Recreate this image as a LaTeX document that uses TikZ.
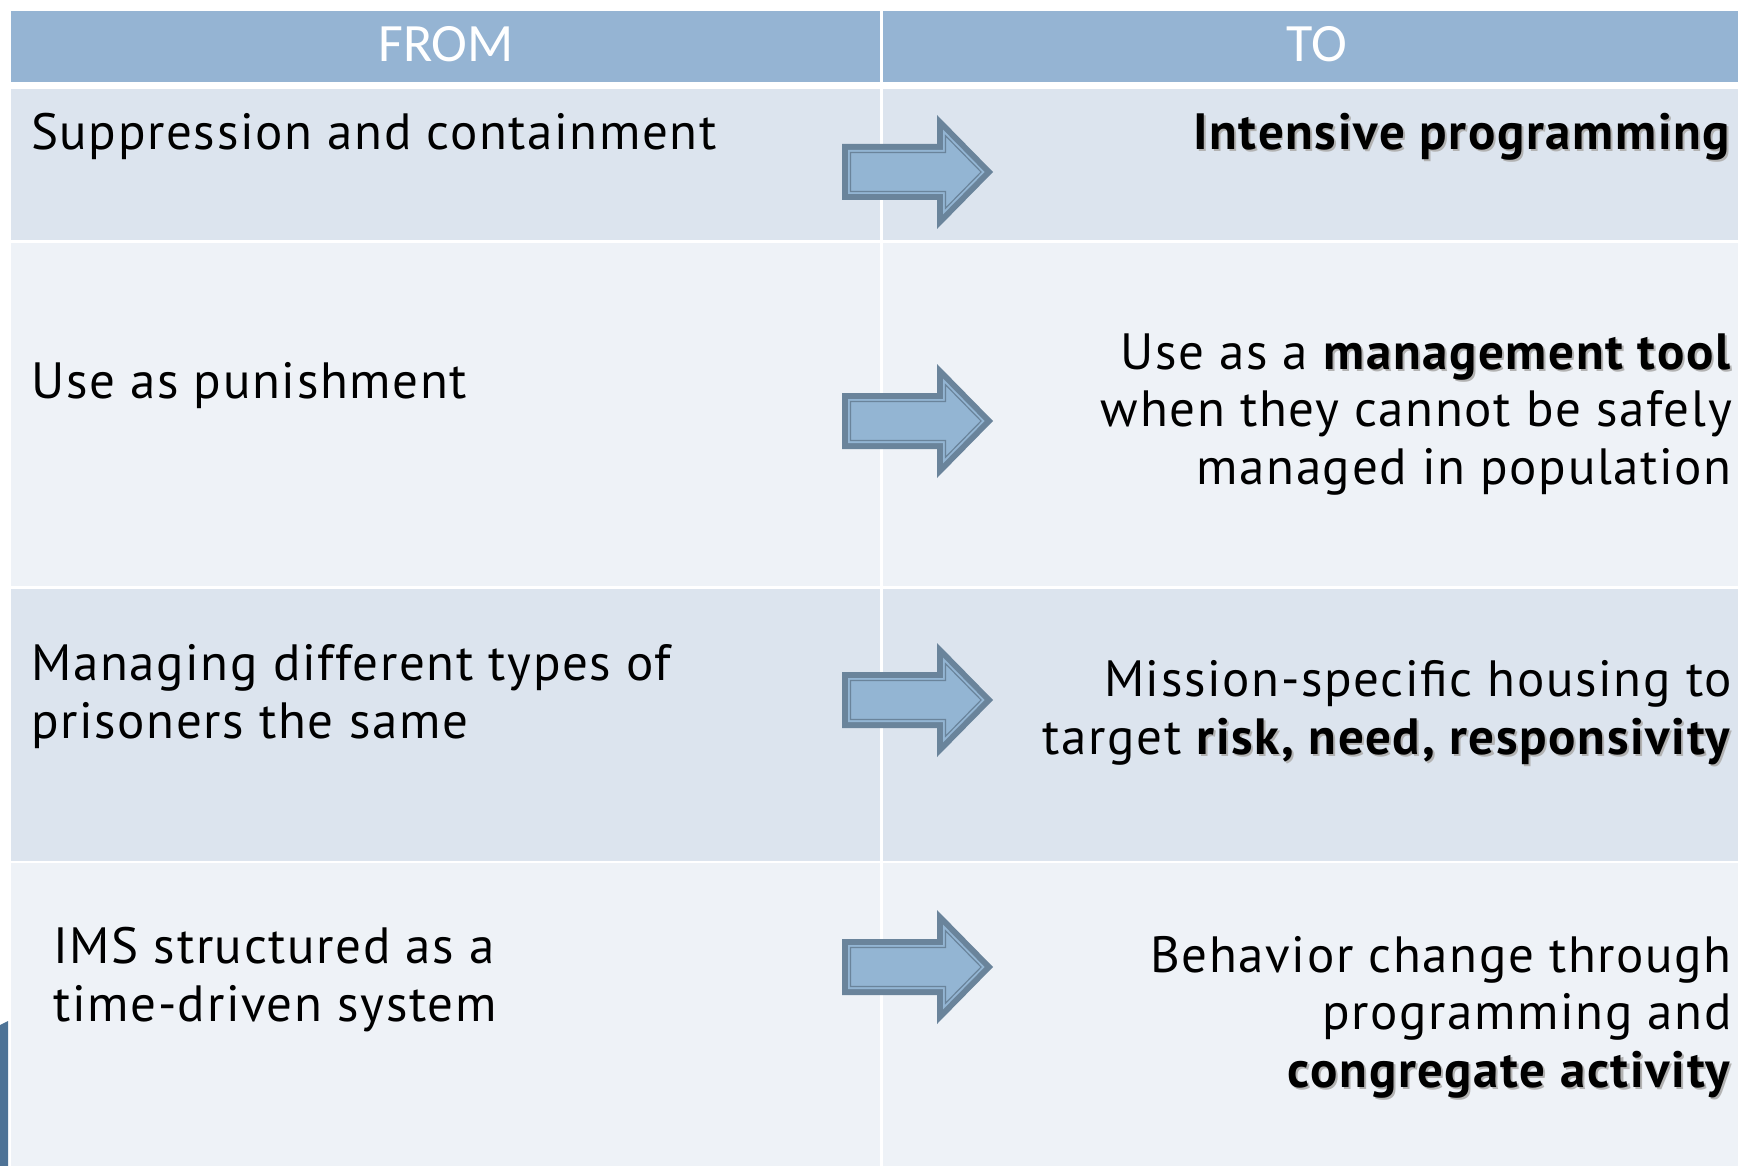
\documentclass[tikz,border=0pt]{standalone}
\usepackage{fontspec}
\setmainfont[LetterSpace=3.2]{PT Sans}
\newfontfamily\headfont{Carlito}
\definecolor{headblue}{HTML}{95B4D3}
\definecolor{rowdark}{HTML}{DCE4EE}
\definecolor{rowlight}{HTML}{EEF2F7}
\definecolor{arrowdark}{HTML}{6A849B}
\definecolor{arrowlight}{HTML}{93B5D3}
\definecolor{stripblue}{HTML}{4E7396}

% bold words with a soft drop shadow
\newcommand\shadowed[1]{\makebox[0pt][l]{\hspace{2pt}\raisebox{-2pt}{\color{black!30}\textbf{#1}}}\textbf{#1}}

% outline of the block arrow, pulled in by #1
\newcommand\arrowoutline[1]{(#1,{-28+#1}) -- ({95+#1},{-28+#1}) -- ({95+#1},{-57+2.44*#1})
  -- ({151-1.40*#1},0) -- ({95+#1},{57-2.44*#1}) -- ({95+#1},{28-#1}) -- (#1,{28-#1}) -- cycle}

\tikzset{
  pics/shiftarrow/.style={code={
    \fill[arrowdark] \arrowoutline{0};
    \fill[arrowlight] \arrowoutline{6};
    \draw[arrowdark,line width=1.2pt,fill=arrowlight] \arrowoutline{8.5};
  }}
}

\begin{document}
\begin{tikzpicture}[x=1pt,y=-1pt,
  lefttext/.style={anchor=base west,inner sep=0pt,align=left,
    font=\fontsize{51}{57.5}\selectfont},
  righttext/.style={anchor=base east,inner sep=0pt,align=right,
    font=\fontsize{51}{57.5}\selectfont},
  headtext/.style={text=white,inner sep=0pt,
    font=\headfont\fontsize{54}{60}\selectfont}]
\useasboundingbox (0,0) rectangle (1738,1166);
\fill[white] (0,0) rectangle (1738,1166);

% table bands
\fill[headblue] (11,11) rectangle (1738,82);
\fill[rowdark] (11,89) rectangle (1738,240);
\fill[rowlight] (11,243) rectangle (1738,586);
\fill[rowdark] (11,589) rectangle (1738,861);
\fill[rowlight] (11,863) rectangle (1738,1166);
\draw[white,line width=3pt] (881,11) -- (881,1166);

% bit of the slide behind, at the left edge
\fill[stripblue] (0,1025) -- (8,1021) -- (8,1166) -- (0,1166) -- cycle;

% headings
\node[headtext] (hfrom) at (446,44) {FROM};
\node[headtext] (hto) at (1317,44) {TO};

% rows (base anchor = last line)
\node[lefttext] (r1from) at (31,150) {Suppression and containment};
\node[righttext] (r1to) at (1732,150) {\shadowed{Intensive programming}};

\node[lefttext] (r2from) at (31,399) {Use as punishment};
\node[righttext] (r2to) at (1732,484) {Use as a \shadowed{management tool}\\
  when they cannot be safely\\managed in population};

\node[lefttext] (r3from) at (31,738) {Managing different types of\\prisoners the same};
\node[righttext] (r3to) at (1732,754) {Mission-specific housing to\\
  target \shadowed{risk, need, responsivity}};

\node[lefttext] (r4from) at (53,1021) {IMS structured as a\\time-driven system};
\node[righttext] (r4to) at (1732,1087) {Behavior change through\\programming and\\
  \shadowed{congregate activity}};

% arrows
\pic (a1) at (842,172) {shiftarrow};
\pic (a2) at (842,421) {shiftarrow};
\pic (a3) at (842,700) {shiftarrow};
\pic (a4) at (842,967) {shiftarrow};
\end{tikzpicture}
\end{document}
